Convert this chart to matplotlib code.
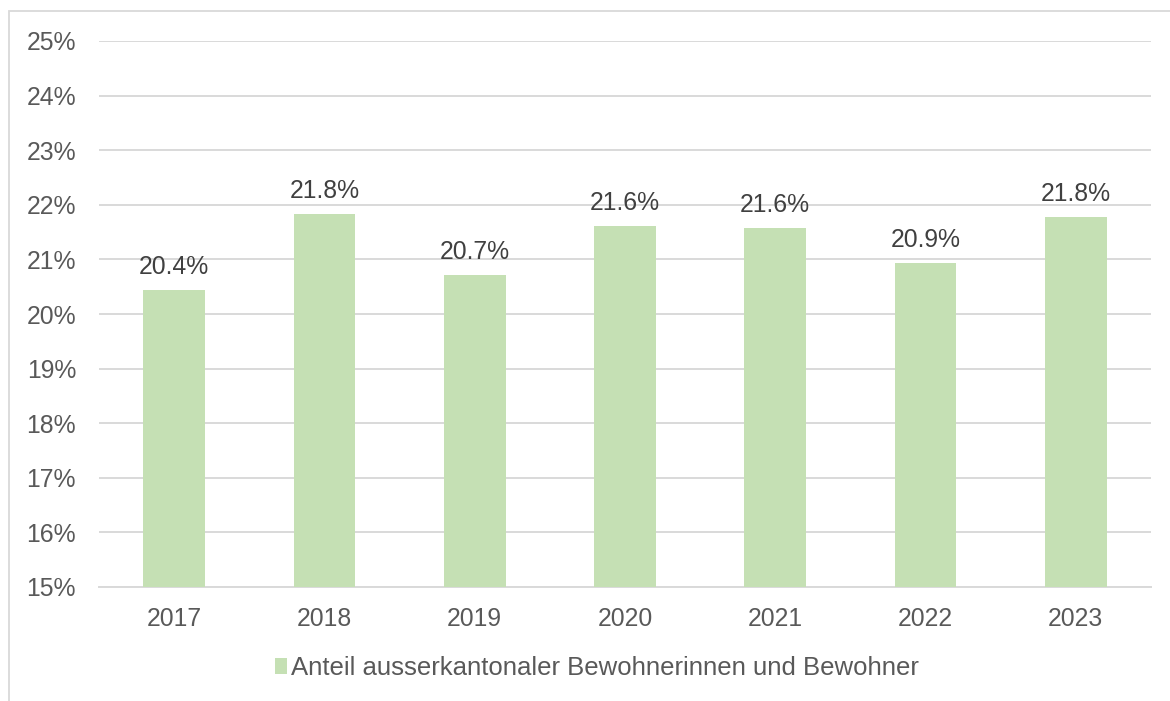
import matplotlib
matplotlib.use("Agg")
import matplotlib.pyplot as plt
from matplotlib.patches import Rectangle

years = ["2017", "2018", "2019", "2020", "2021", "2022", "2023"]
values = [20.44, 21.83, 20.71, 21.61, 21.58, 20.94, 21.77]
labels = ["20.4%", "21.8%", "20.7%", "21.6%", "21.6%", "20.9%", "21.8%"]
yticks = [15, 16, 17, 18, 19, 20, 21, 22, 23, 24, 25]
series_name = "Anteil ausserkantonaler Bewohnerinnen und Bewohner"

plt.rcParams['font.family'] = ['Liberation Sans', 'DejaVu Sans']

W, H = 1170, 701
FS = 17.8
fig = plt.figure(figsize=(W / 100, H / 100), dpi=100)
ax = fig.add_axes([99 / W, 1 - 587 / H, (1151 - 99) / W, (587 - 41) / H])

green = "#C5E0B4"
x = list(range(len(years)))
bars = ax.bar(x, [v - 15 for v in values], bottom=15, width=0.41, color=green,
              label=series_name, zorder=3)
for xi, v, lab in zip(x, values, labels):
    ax.text(xi, v + 0.42, lab, ha="center", va="center", fontsize=FS,
            color="#404040", zorder=4)

ax.set_ylim(15, 25)
ax.set_xlim(-0.5, len(years) - 0.5)
ax.set_yticks(yticks)
ax.set_yticklabels([f"{t}%" for t in yticks])
ax.set_xticks(x)
ax.set_xticklabels(years)
ax.tick_params(axis="both", length=0, labelsize=FS, colors="#595959")
ax.tick_params(axis="y", pad=16.5)
ax.tick_params(axis="x", pad=14.5)
ax.grid(axis="y", color="#D9D9D9", linewidth=1.4, zorder=0)
for s in ["top", "right", "left"]:
    ax.spines[s].set_visible(False)
ax.spines["bottom"].set_color("#D9D9D9")
ax.spines["bottom"].set_linewidth(1.4)

leg = fig.legend(handles=[bars], labels=[series_name], loc="center",
                 bbox_to_anchor=(597 / W, 1 - 668 / H), frameon=False,
                 fontsize=18.5, handlelength=0.45, handleheight=0.6,
                 handletextpad=0.15, labelcolor="#595959")

fig.patches.append(Rectangle((9 / W, -0.1), 1.2, 1 - 11 / H + 0.1,
                             transform=fig.transFigure, fill=False,
                             edgecolor="#D9D9D9", linewidth=1.3))

fig.savefig("out.png", dpi=100, facecolor="white")
